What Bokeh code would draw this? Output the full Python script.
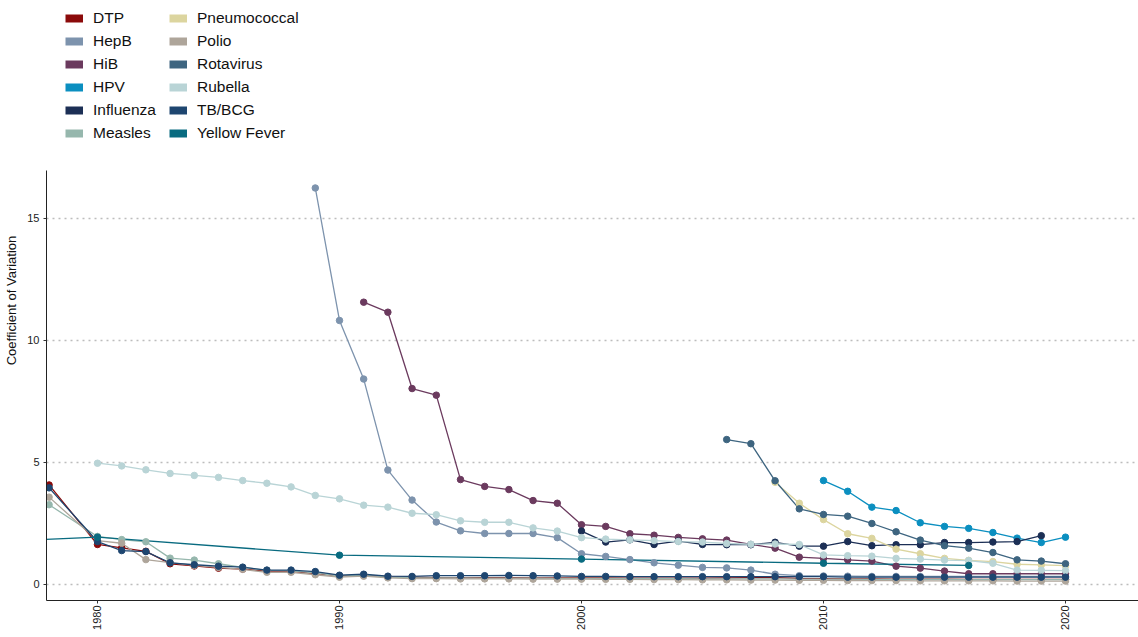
import math
from bokeh.plotting import figure
from bokeh.models import Range1d, Legend, LegendItem, FixedTicker
from bokeh.embed import file_html
from bokeh.resources import INLINE

# ---------------- data ----------------
names = ["DTP", "HepB", "HiB", "HPV", "Influenza", "Measles",
         "Pneumococcal", "Polio", "Rotavirus", "Rubella", "TB/BCG", "Yellow Fever"]
colors = ["#8b0a0a", "#7d93ad", "#6b3a5e", "#0b8fc0", "#1c2f55", "#96b7ad",
          "#dcd59f", "#aea59a", "#3e6580", "#b9d4d6", "#1e4670", "#096b80"]

yrs_78_20 = [1978] + list(range(1980, 2021))
dtp = [4.08,
       1.64, 1.50, 1.36, 0.85, 0.76, 0.67, 0.63, 0.55, 0.54, 0.45,
       0.35, 0.38, 0.31, 0.30, 0.28, 0.28, 0.28, 0.28, 0.27, 0.27,
       0.27, 0.27, 0.26, 0.26, 0.26, 0.26, 0.27, 0.28, 0.28, 0.25,
       0.24, 0.23, 0.23, 0.22, 0.22, 0.22, 0.21, 0.21, 0.21, 0.21, 0.21]
tb_bcg = [3.96,
          1.76, 1.39, 1.35, 0.89, 0.81, 0.75, 0.71, 0.59, 0.59, 0.53,
          0.38, 0.42, 0.34, 0.33, 0.36, 0.36, 0.36, 0.37, 0.36, 0.35,
          0.33, 0.33, 0.32, 0.32, 0.32, 0.32, 0.32, 0.32, 0.32, 0.32,
          0.32, 0.30, 0.30, 0.30, 0.30, 0.30, 0.30, 0.30, 0.30, 0.30, 0.30]
polio = [3.58,
         1.80, 1.69, 1.02, 0.90, 0.78, 0.70, 0.62, 0.50, 0.50, 0.40,
         0.30, 0.34, 0.27, 0.24, 0.24, 0.23, 0.23, 0.23, 0.22, 0.22,
         0.22, 0.21, 0.21, 0.20, 0.20, 0.19, 0.19, 0.18, 0.18, 0.17,
         0.17, 0.16, 0.16, 0.16, 0.15, 0.15, 0.15, 0.15, 0.14, 0.14, 0.14]
measles = [3.27,
           1.97, 1.84, 1.75, 1.08, 1.00, 0.85, 0.70, 0.58, 0.56, 0.48,
           0.34, 0.38, 0.30, 0.28, 0.27, 0.27, 0.26, 0.26, 0.26, 0.25,
           0.25, 0.25, 0.24, 0.24, 0.24, 0.23, 0.23, 0.23, 0.23, 0.22,
           0.22, 0.22, 0.21, 0.21, 0.21, 0.21, 0.20, 0.20, 0.20, 0.20, 0.20]

yrs_hepb = list(range(1989, 2021))
hepb = [16.25,
        10.82, 8.42, 4.69, 3.46, 2.56, 2.20, 2.09, 2.09, 2.09, 1.92,
        1.26, 1.15, 1.02, 0.89, 0.79, 0.70, 0.68, 0.59, 0.42, 0.36,
        0.35, 0.34, 0.33, 0.33, 0.33, 0.33, 0.33, 0.33, 0.33, 0.33, 0.33]

yrs_hib = list(range(1991, 2021))
hib = [11.57, 11.16, 8.03, 7.76, 4.30, 4.02, 3.89, 3.44, 3.33,
       2.45, 2.38, 2.08, 2.02, 1.93, 1.87, 1.82, 1.64, 1.49, 1.12,
       1.07, 1.01, 0.96, 0.75, 0.67, 0.55, 0.44, 0.44, 0.44, 0.44, 0.44]

yrs_hpv = list(range(2010, 2021))
hpv = [4.26, 3.82, 3.17, 3.03, 2.53, 2.38, 2.30, 2.13, 1.90, 1.72, 1.94]

yrs_flu = list(range(2000, 2020))
influenza = [2.19, 1.74, 1.83, 1.64, 1.78, 1.64, 1.63, 1.63, 1.73, 1.57,
             1.57, 1.76, 1.59, 1.63, 1.63, 1.72, 1.72, 1.74, 1.76, 2.00]

yrs_pneumo = list(range(2008, 2021))
pneumococcal = [4.19, 3.33, 2.66, 2.08, 1.89, 1.45, 1.26, 1.07, 0.99, 0.94, 0.83, 0.80, 0.77]

yrs_rota = list(range(2006, 2021))
rotavirus = [5.94, 5.77, 4.25, 3.10, 2.87, 2.80, 2.50, 2.16, 1.82, 1.59, 1.49, 1.31, 1.01, 0.96, 0.85]

yrs_rubella = list(range(1980, 2021))
rubella = [4.97, 4.86, 4.70, 4.55, 4.47, 4.39, 4.26, 4.15, 4.00, 3.65,
           3.51, 3.25, 3.17, 2.92, 2.86, 2.61, 2.55, 2.55, 2.32, 2.19,
           1.92, 1.86, 1.83, 1.80, 1.76, 1.74, 1.68, 1.65, 1.66, 1.64,
           1.21, 1.18, 1.16, 1.07, 1.04, 1.00, 0.98, 0.87, 0.59, 0.58, 0.57]

yrs_yf = [1970, 1980, 1990, 2000, 2010, 2016]
yellow_fever = [1.51, 1.94, 1.20, 1.04, 0.87, 0.78]

series = {
    "DTP": (yrs_78_20, dtp),
    "HepB": (yrs_hepb, hepb),
    "HiB": (yrs_hib, hib),
    "HPV": (yrs_hpv, hpv),
    "Influenza": (yrs_flu, influenza),
    "Measles": (yrs_78_20, measles),
    "Pneumococcal": (yrs_pneumo, pneumococcal),
    "Polio": (yrs_78_20, polio),
    "Rotavirus": (yrs_rota, rotavirus),
    "Rubella": (yrs_rubella, rubella),
    "TB/BCG": (yrs_78_20, tb_bcg),
    "Yellow Fever": (yrs_yf, yellow_fever),
}

x_ticks = [1980, 1990, 2000, 2010, 2020]
y_ticks = [0, 5, 10, 15]

FONT = "Liberation Sans"
Y_MIN, Y_AXIS_TOP, Y_FRAME_TOP = -0.656, 16.97, 23.934

# ---------------- figure ----------------
# the frame reaches the top of the canvas so that the legend (drawn inside
# the frame) sits above the panel; the y axis line is bounded to the panel.
p = figure(width=1138, height=637, output_backend="svg", toolbar_location=None,
           x_range=Range1d(1977.893, 2023.017), y_range=Range1d(Y_MIN, Y_FRAME_TOP),
           min_border_left=46, min_border_right=0, min_border_top=0, min_border_bottom=37)
p.outline_line_color = None
p.background_fill_color = "white"
p.border_fill_color = "white"

p.xgrid.grid_line_color = None
p.ygrid.ticker = FixedTicker(ticks=y_ticks)
p.ygrid.grid_line_color = "#bdbdbd"
p.ygrid.grid_line_dash = "2 4"
p.ygrid.grid_line_width = 1.3

for ax in (p.xaxis[0], p.yaxis[0]):
    ax.axis_line_color = "#222222"
    ax.axis_line_width = 1
    ax.major_tick_line_color = "#333333"
    ax.major_tick_out = 3
    ax.major_tick_in = 0
    ax.minor_tick_line_color = None
    ax.major_label_text_font = FONT
    ax.major_label_text_font_size = "11px"
    ax.major_label_text_color = "#222222"

p.xaxis.ticker = FixedTicker(ticks=x_ticks)
p.xaxis.major_label_orientation = math.pi / 2
p.xaxis.major_label_standoff = 2

p.yaxis.ticker = FixedTicker(ticks=y_ticks)
p.yaxis.bounds = (Y_MIN, Y_AXIS_TOP)
p.yaxis.major_label_standoff = 4
p.yaxis.axis_label = "Coefficient of Variation"
p.yaxis.axis_label_text_font = FONT
p.yaxis.axis_label_text_font_size = "13px"
p.yaxis.axis_label_text_font_style = "normal"
p.yaxis.axis_label_text_color = "#111111"
p.yaxis.axis_label_standoff = 5

# lines first, then points (ggplot style layering)
for name, col in zip(names, colors):
    xs, ys = series[name]
    p.line(xs, ys, line_color=col, line_width=1.3)
for name, col in zip(names, colors):
    xs, ys = series[name]
    p.scatter(xs, ys, size=6.5, fill_color=col, line_color=col)

# legend swatches (renderers with no drawable data, only used by the legend)
nan = float("nan")
swatch = {}
for name, col in zip(names, colors):
    swatch[name] = p.line(x=[nan, nan], y=[nan, nan], line_color=col,
                          line_width=8, line_cap="butt")

def make_legend(sub, xoff):
    return Legend(items=[LegendItem(label=n, renderers=[swatch[n]]) for n in sub],
                  location=(xoff, 457), orientation="vertical",
                  glyph_width=18, glyph_height=20, label_height=20, spacing=3,
                  padding=0, margin=0, label_standoff=10,
                  label_text_font=FONT, label_text_font_size="15.5px",
                  label_text_color="#111111",
                  border_line_alpha=0, background_fill_alpha=0)

p.add_layout(make_legend(names[:6], 19))
p.add_layout(make_legend(names[6:], 123))

open("out.html", "w").write(file_html(p, INLINE))
